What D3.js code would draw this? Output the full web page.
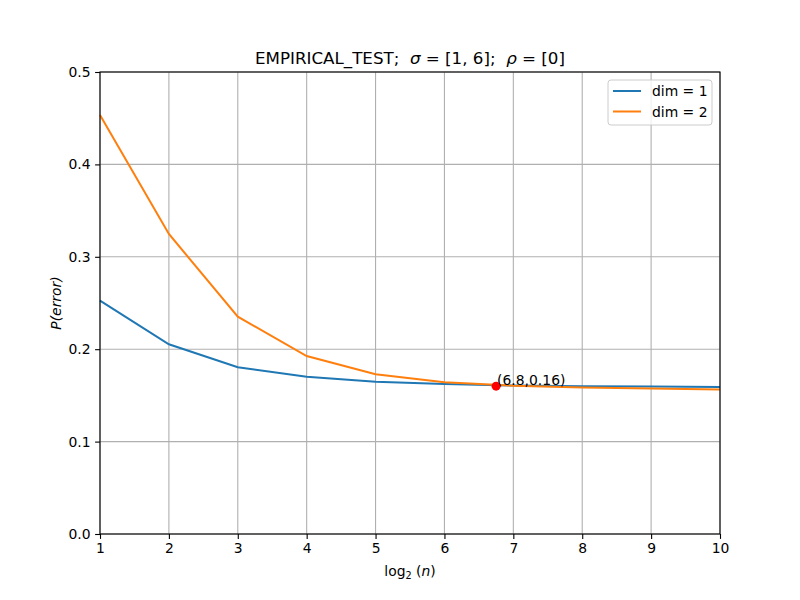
<!DOCTYPE html>
<html>
<head>
<meta charset="utf-8">
<script src="https://cdn.jsdelivr.net/npm/d3@7"></script>
<style>
  body { margin: 0; background: #fff; }
  text { font-family: "DejaVu Sans", sans-serif; }
</style>
</head>
<body>
<div id="chart"></div>
<script>
const logN = [1, 2, 3, 4, 5, 6, 7, 8, 9, 10];
const dim1 = [0.2525, 0.2053, 0.1804, 0.1703, 0.1648, 0.1623, 0.1607, 0.1600, 0.1595, 0.1590];
const dim2 = [0.4535, 0.3247, 0.2352, 0.1926, 0.1728, 0.1642, 0.1605, 0.1585, 0.1575, 0.1564];
const seriesNames = ["dim = 1", "dim = 2"];
const xTicks = [1, 2, 3, 4, 5, 6, 7, 8, 9, 10];
const yTicks = [0.0, 0.1, 0.2, 0.3, 0.4, 0.5];
const marker = { x: 6.75, y: 0.16, label: "(6.8,0.16)" };

const width = 800, height = 600;
const margin = { top: 72, right: 80, bottom: 66, left: 100 };
const iw = width - margin.left - margin.right;
const ih = height - margin.top - margin.bottom;

const svg = d3.select("#chart").append("svg")
  .attr("width", width).attr("height", height);

const x = d3.scaleLinear().domain([1, 10]).range([0, iw]);
const y = d3.scaleLinear().domain([0, 0.5]).range([ih, 0]);

const g = svg.append("g").attr("transform", `translate(${margin.left},${margin.top})`);

// grid
g.append("g").selectAll("line").data(xTicks).join("line")
  .attr("x1", d => x(d)).attr("x2", d => x(d)).attr("y1", 0).attr("y2", ih)
  .attr("stroke", "#b0b0b0").attr("stroke-width", 1.1);
g.append("g").selectAll("line").data(yTicks).join("line")
  .attr("y1", d => y(d)).attr("y2", d => y(d)).attr("x1", 0).attr("x2", iw)
  .attr("stroke", "#b0b0b0").attr("stroke-width", 1.1);

// lines
const colors = ["#1f77b4", "#ff7f0e"];
const line = d3.line().x((d, i) => x(logN[i])).y(d => y(d));
[dim1, dim2].forEach((s, i) => {
  g.append("path").datum(s)
    .attr("fill", "none").attr("stroke", colors[i]).attr("stroke-width", 2)
    .attr("d", line);
});

// marker + annotation
g.append("circle").attr("cx", x(marker.x)).attr("cy", y(marker.y)).attr("r", 4.5).attr("fill", "red");
g.append("text").attr("x", x(marker.x) + 1).attr("y", y(marker.y) - 1)
  .style("font-size", "13.9px").attr("fill", "#000").text(marker.label);

// axes
const xa = g.append("g").attr("transform", `translate(0,${ih})`)
  .call(d3.axisBottom(x).tickValues(xTicks).tickSize(4.9).tickPadding(4.5).tickFormat(d3.format("d")));
const ya = g.append("g")
  .call(d3.axisLeft(y).tickValues(yTicks).tickSize(4.9).tickPadding(4.5).tickFormat(d3.format(".1f")));
[xa, ya].forEach(a => {
  a.select(".domain").remove();
  a.selectAll("text").style("font-size", "13.9px").style("font-family", "DejaVu Sans").attr("fill", "#000");
  a.selectAll("line").attr("stroke", "#000").attr("stroke-width", 1.1);
});

// frame
g.append("rect").attr("width", iw).attr("height", ih)
  .attr("fill", "none").attr("stroke", "#000").attr("stroke-width", 1.1);

// title
const title = svg.append("text").attr("x", margin.left + iw / 2).attr("y", 64)
  .attr("text-anchor", "middle").style("font-size", "16.7px").attr("xml:space", "preserve");
title.append("tspan").text("EMPIRICAL_TEST;  ");
title.append("tspan").style("font-style", "italic").text("σ");
title.append("tspan").text(" = [1, 6];  ");
title.append("tspan").style("font-style", "italic").text("ρ");
title.append("tspan").text(" = [0]");

// axis labels
const xl = svg.append("text").attr("x", margin.left + iw / 2).attr("y", 576)
  .attr("text-anchor", "middle").style("font-size", "13.9px");
xl.append("tspan").text("log");
xl.append("tspan").attr("dy", 3).style("font-size", "9.7px").text("2");
xl.append("tspan").attr("dy", -3).text(" (");
xl.append("tspan").style("font-style", "italic").text("n");
xl.append("tspan").text(")");

svg.append("text").attr("transform", `translate(61,${margin.top + ih / 2}) rotate(-90)`)
  .attr("text-anchor", "middle").style("font-size", "13.9px").style("font-style", "italic")
  .text("P(error)");

// legend
const lg = svg.append("g").attr("transform", "translate(608,80)");
lg.append("rect").attr("width", 104).attr("height", 45).attr("rx", 3)
  .attr("fill", "#fff").attr("fill-opacity", 0.8).attr("stroke", "#cccccc");
seriesNames.forEach((n, i) => {
  const yy = 11 + i * 20.5;
  lg.append("line").attr("x1", 5).attr("x2", 33).attr("y1", yy).attr("y2", yy)
    .attr("stroke", colors[i]).attr("stroke-width", 2);
  lg.append("text").attr("x", 44).attr("y", yy + 5).style("font-size", "13.9px").text(n);
});
</script>
</body>
</html>
